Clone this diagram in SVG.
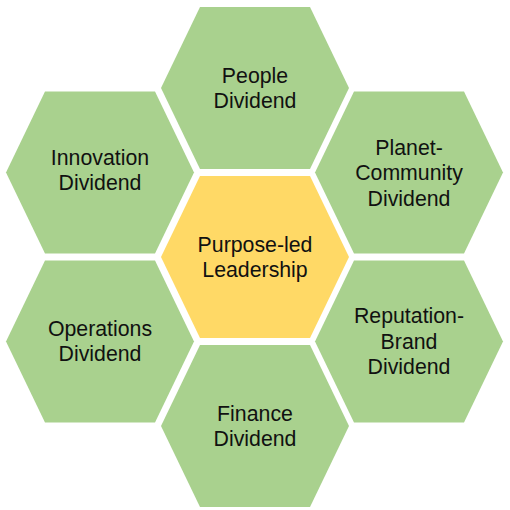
<svg xmlns="http://www.w3.org/2000/svg" xmlns:xlink="http://www.w3.org/1999/xlink" width="510" height="510" viewBox="0 0 510 510">
<style>
.hex{fill:#A9D18E;stroke:none}
.core{fill:#FFD966;stroke:none}
text{font-family:"Liberation Sans",Arial,sans-serif;font-size:21.3px;fill:#111;text-anchor:middle}
</style>
<defs>
<polygon id="hx" points="-55,-81 55,-81 94,0 55,81 -55,81 -94,0"/>
</defs>
<rect width="510" height="510" fill="#fff"/>
<g id="connectors"></g>
<g id="people" transform="translate(255,88)">
<use xlink:href="#hx" class="hex"/>
<text x="0" y="-5.3">People</text>
<text x="0" y="20.3">Dividend</text>
</g>
<g id="innovation" transform="translate(100,172.5)">
<use xlink:href="#hx" class="hex"/>
<text x="0" y="-8">Innovation</text>
<text x="0" y="17.6">Dividend</text>
</g>
<g id="planet" transform="translate(409,172.5)">
<use xlink:href="#hx" class="hex"/>
<text x="0" y="-18">Planet-</text>
<text x="0" y="7.5">Community</text>
<text x="0" y="33">Dividend</text>
</g>
<g id="purpose" transform="translate(255,257)">
<use xlink:href="#hx" class="core"/>
<text x="0" y="-5.3">Purpose-led</text>
<text x="0" y="20.3">Leadership</text>
</g>
<g id="operations" transform="translate(100,341.5)">
<use xlink:href="#hx" class="hex"/>
<text x="0" y="-5.8">Operations</text>
<text x="0" y="19.8">Dividend</text>
</g>
<g id="reputation" transform="translate(409,341.5)">
<use xlink:href="#hx" class="hex"/>
<text x="0" y="-18.5">Reputation-</text>
<text x="0" y="7">Brand</text>
<text x="0" y="32.5">Dividend</text>
</g>
<g id="finance" transform="translate(255,426)">
<use xlink:href="#hx" class="hex"/>
<text x="0" y="-5.3">Finance</text>
<text x="0" y="20.3">Dividend</text>
</g>
</svg>
